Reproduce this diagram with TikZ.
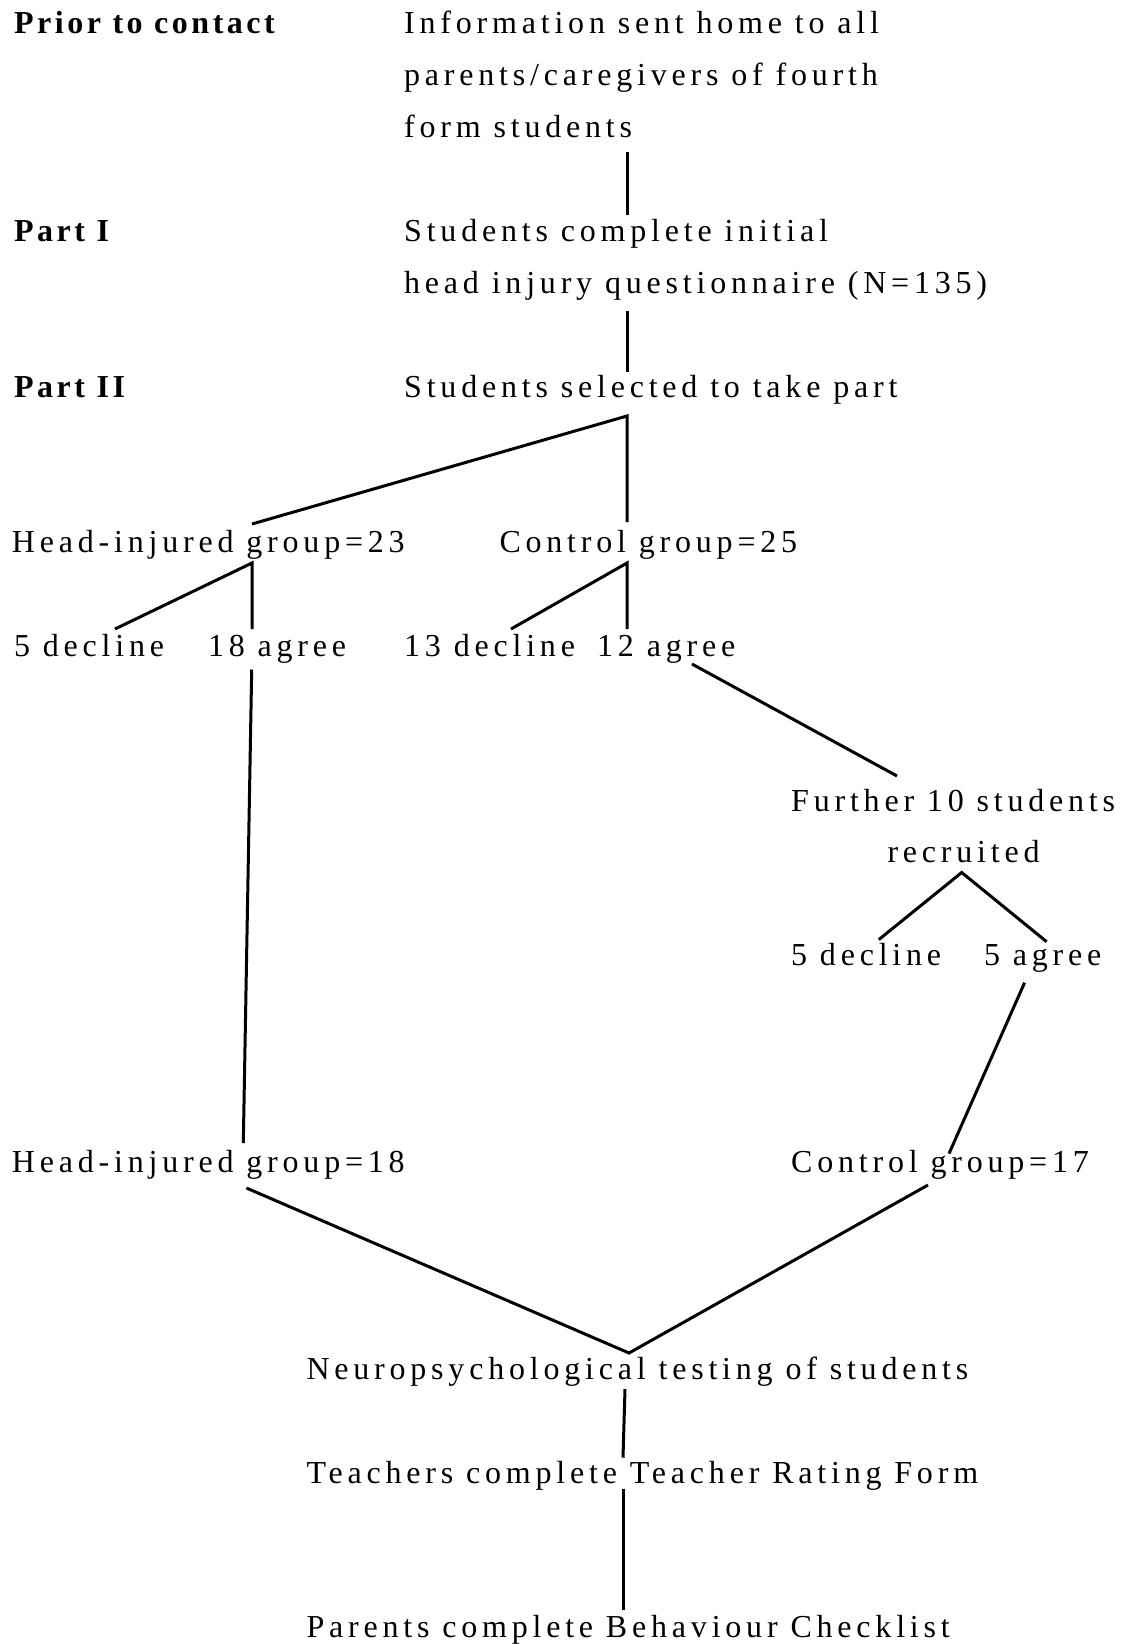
\documentclass[tikz,border=0pt]{standalone}
\usepackage{fontspec}
\setmainfont{Liberation Serif}[LetterSpace=15]
\usetikzlibrary{calc}

\begin{document}
\begin{tikzpicture}[x=1pt,y=-1pt]
		\tikzstyle{every path}=[line width=3pt]
		\tikzstyle{stage}=[anchor=base west,inner sep=0pt,
								  font=\fontsize{32}{52}\selectfont]
		\tikzstyle{part}=[stage,font=\fontsize{32}{52}\selectfont\bfseries\addfontfeature{LetterSpace=11}]

\useasboundingbox (0,0) rectangle (1142,1644);

% left column
\node[part] at (12.6,33) (prior) {Prior to contact};
\node[part] at (12.6,241) (partI) {Part I};
\node[part] at (12.6,397) (partII) {Part II};

% main column
\node[stage] at (402.7,33) (info1) {Information sent home to all};
\node[stage] at (402.7,85) (info2) {parents/caregivers of fourth};
\node[stage] at (402.7,137) (info3) {form students};
\node[stage] at (402.7,241) (quest1) {Students complete initial};
\node[stage] at (402.7,293) (quest2) {head injury questionnaire (N=135)};
\node[stage] at (402.7,397) (select) {Students selected to take part};

\node[stage] at (10.5,552) (hurt23) {Head-injured group=23};
\node[stage] at (498,552) (ctrl25) {Control group=25};

\node[stage] at (12.6,656) (hurtno) {5 decline};
\node[stage] at (206.6,656) (hurtyes) {18 agree};
\node[stage] at (402.7,656) (ctrlno) {13 decline};
\node[stage] at (595.7,656) (ctrlyes) {12 agree};

\node[stage] at (789.7,811) (further1) {Further 10 students};
\node[stage] at (886,862) (further2) {recruited};
\node[stage] at (789.7,965) (extrano) {5 decline};
\node[stage] at (982.6,965) (extrayes) {5 agree};

\node[stage] at (10.5,1172) (hurt18) {Head-injured group=18};
\node[stage] at (789.7,1172) (ctrl17) {Control group=17};

\node[stage] at (305,1379) (neuro) {Neuropsychological testing of students};
\node[stage] at (305,1483) (teacher) {Teachers complete Teacher Rating Form};
\node[stage] at (305,1637) (parent) {Parents complete Behaviour Checklist};

% joints
\coordinate (info3-out) at (627,152);
\coordinate (quest1-in) at (627,215);
\coordinate (quest2-out) at (627,311);
\coordinate (select-in) at (627,372);
\coordinate (select-out) at (627,416);
\coordinate (hurt23-in) at (252,524);
\coordinate (ctrl25-in) at (627,522);
\coordinate (hurt23-out) at (252,563);
\coordinate (ctrl25-out) at (627,563);
\coordinate (hurtno-in) at (115,629);
\coordinate (hurtyes-in) at (252,629);
\coordinate (ctrlno-in) at (511,629);
\coordinate (ctrlyes-in) at (627,629);
\coordinate (ctrlyes-out) at (692,664);
\coordinate (further1-in) at (897,776);
\coordinate (further2-out) at (961.7,872.5);
\coordinate (extrano-in) at (878.8,939.6);
\coordinate (extrayes-in) at (1046.6,941.7);
\coordinate (extrayes-out) at (1024.6,982.6);
\coordinate (ctrl17-in) at (949,1153.6);
\coordinate (hurtyes-out) at (251.7,669.5);
\coordinate (hurt18-in) at (243.3,1143);
\coordinate (hurt18-out) at (246.4,1188);
\coordinate (ctrl17-out) at (928,1185);
\coordinate (neuro-in) at (629,1353);
\coordinate (neuro-out) at (625,1389);
\coordinate (teacher-in) at (623,1457.7);
\coordinate (teacher-out) at (623,1489);
\coordinate (parent-in) at (623,1609.8);

\draw (info3-out) -- (quest1-in);
\draw (quest2-out) -- (select-in);
\draw (hurt23-in) -- (select-out) -- (ctrl25-in);
\draw (hurtno-in) -- (hurt23-out) -- (hurtyes-in);
\draw (ctrlno-in) -- (ctrl25-out) -- (ctrlyes-in);
\draw (ctrlyes-out) -- (further1-in);
\draw (extrano-in) -- (further2-out) -- (extrayes-in);
\draw (extrayes-out) -- (ctrl17-in);
\draw (hurtyes-out) -- (hurt18-in);
\draw (hurt18-out) -- (neuro-in) -- (ctrl17-out);
\draw (neuro-out) -- (teacher-in);
\draw (teacher-out) -- (parent-in);

\end{tikzpicture}
\end{document}
